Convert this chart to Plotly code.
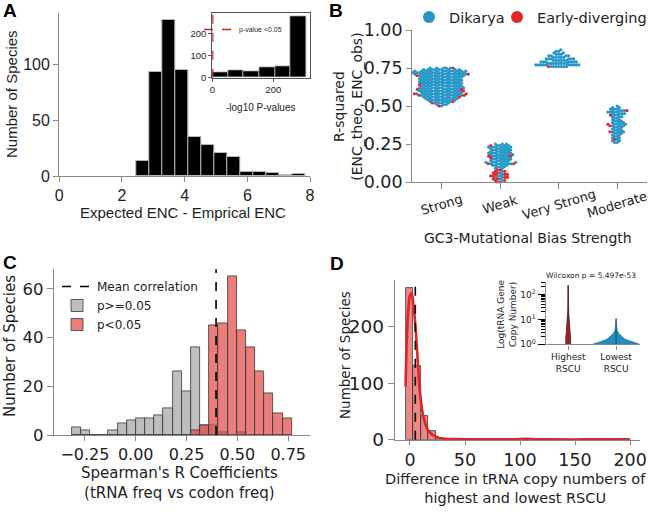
import numpy as np
import plotly.graph_objects as go

W, H = 650, 513

# ---------------- Panel A : histogram of Expected ENC - Empirical ENC ----------------
a_bin_range = (2.47, 7.85)
a_counts = [13, 93, 140, 95, 35, 28, 21, 17, 4, 4, 3, 1, 2]
a_xticks = [0, 2, 4, 6, 8]
a_yticks = [0, 50, 100]

# inset: -log10 p-values
ai_bin_range = (0, 308)
ai_counts = [26, 32, 27, 47, 53, 280]
ai_threshold = 1.301  # -log10(0.05)
ai_xticks = [0, 200]
ai_yticks = [0, 100, 200]

# ---------------- Panel B : swarm of R-squared by GC3 bias strength ----------------
b_categories = ["Strong", "Weak", "Very Strong", "Moderate"]
strong_levels = [0.50, 0.51, 0.52, 0.53, 0.54, 0.55, 0.56, 0.57, 0.58, 0.59, 0.60, 0.61, 0.62,
                 0.63, 0.64, 0.65, 0.66, 0.67, 0.68, 0.69, 0.70, 0.71, 0.72, 0.73, 0.74, 0.75]
strong_dikarya = [1, 3, 4, 5, 7, 8, 8, 10, 10, 10, 10, 9, 11, 10, 9, 10, 10, 10, 10, 10, 11, 12, 13, 12, 9, 5]
strong_early = [1, 0, 1, 1, 0, 0, 1, 2, 2, 0, 1, 2, 0, 0, 1, 0, 0, 0, 0, 0, 1, 1, 0, 0, 0, 1]

weak_levels = [0.00, 0.01, 0.02, 0.03, 0.04, 0.05, 0.06, 0.07, 0.08, 0.09, 0.10, 0.11, 0.12,
               0.13, 0.14, 0.15, 0.16, 0.17, 0.18, 0.19, 0.20, 0.21, 0.22, 0.23, 0.24, 0.25]
weak_dikarya = [1, 1, 1, 2, 2, 1, 1, 1, 0, 2, 3, 4, 6, 6, 5, 5, 4, 4, 6, 6, 5, 5, 5, 6, 4, 3]
weak_early = [1, 2, 2, 2, 2, 3, 2, 2, 2, 0, 0, 0, 2, 0, 0, 0, 1, 2, 0, 0, 0, 0, 0, 0, 1, 0]

vstrong_levels = [0.76, 0.77, 0.78, 0.79, 0.80, 0.81, 0.82, 0.83, 0.84, 0.85, 0.86, 0.87]
vstrong_dikarya = [7, 10, 8, 7, 6, 6, 5, 4, 3, 2, 2, 1]
vstrong_early = [1, 0, 0, 0, 0, 0, 0, 0, 0, 0, 0, 0]

moderate_levels = [0.26, 0.27, 0.28, 0.29, 0.30, 0.31, 0.32, 0.33, 0.34, 0.35, 0.36, 0.37, 0.38,
                   0.39, 0.40, 0.41, 0.42, 0.43, 0.44, 0.45, 0.46, 0.47, 0.48, 0.49, 0.50]
moderate_dikarya = [2, 2, 1, 2, 2, 2, 3, 3, 3, 2, 3, 3, 4, 3, 3, 2, 2, 3, 2, 4, 4, 4, 3, 2, 1]
moderate_early = [0, 0, 1, 0, 0, 0, 0, 1, 0, 0, 0, 1, 1, 0, 0, 0, 0, 0, 1, 0, 0, 1, 0, 0, 0]
b_yticks = [0.0, 0.25, 0.5, 0.75, 1.0]

# ---------------- Panel C : Spearman's R histograms ----------------
c_bin_range = (-0.315, 0.767)
c_counts_ns = [3, 2, 0, 0, 2, 5, 6, 7, 7, 8, 11, 26, 18, 36, 4, 4, 1, 0, 1, 0, 0, 0, 0, 0]
c_counts_sig = [0, 0, 0, 0, 0, 0, 0, 0, 0, 0, 0, 0, 0, 2, 4, 45, 46, 65, 43, 36, 26, 17, 9, 7]
c_mean = 0.395
c_xticks = [-0.25, 0.0, 0.25, 0.5, 0.75]
c_yticks = [0, 20, 40, 60]

# ---------------- Panel D : tRNA copy number differences ----------------
d_bin_range = (-3.6, 200)
d_counts = [268, 130, 41, 15, 3, 1, 0, 0, 0, 0, 0, 0, 0, 0, 0, 1, 0, 0, 0, 0,
            0, 0, 0, 0, 0, 0, 0, 0, 0, 1]
d_kde_x = [-4, -3, -1.5, 0, 1.5, 3, 5, 7, 9, 12, 16, 20, 24, 30, 40, 60, 80, 95, 105, 115, 130, 160, 200]
d_kde_y = [94, 170, 230, 255, 259, 240, 200, 141, 85, 42, 18, 9, 5, 2, 1, 0.6, 0.5, 0.8, 1.5, 0.8, 0.5, 0.5, 0.8]
d_mean = 4.85
d_xticks = [0, 50, 100, 150, 200]
d_yticks = [0, 100, 200]

# inset violins (copy number levels and half-widths of density)
dv_categories = ["Highest<br>RSCU", "Lowest<br>RSCU"]
high_levels = [1, 1.3, 2, 3, 5, 8, 12, 20, 40, 80, 150, 234]
high_halfw = [0.05, 0.055, 0.05, 0.04, 0.03, 0.022, 0.014, 0.01, 0.007, 0.005, 0.003, 0.0]
low_levels = [1, 1.27, 1.58, 2.1, 2.7, 3.7, 6, 10.7]
low_halfw = [0.49, 0.33, 0.19, 0.115, 0.06, 0.018, 0.01, 0.0]
wilcoxon_text = "Wilcoxon p = 5.497e-53"

# ======================================================================
BLUE = "#2596c8"
RED = "#e3262c"
AX_GRAY = "#8a8a8a"
TXT = "#1e1e1e"
ARIAL = "Liberation Sans, Arial, sans-serif"
DEJAVU = "DejaVu Sans, sans-serif"


def xd(a, b):
    return [a / W, b / W]


def yd(top, bottom):
    return [1 - bottom / H, 1 - top / H]


def bars_from(rng, counts):
    edges = np.linspace(rng[0], rng[1], len(counts) + 1)
    return (edges[:-1] + edges[1:]) / 2, np.diff(edges)


fig = go.Figure()

# ---- A main
ax_c, ax_w = bars_from(a_bin_range, a_counts)
fig.add_trace(go.Bar(x=ax_c, y=a_counts, width=ax_w, marker=dict(color="black", line=dict(color="#b5b5b5", width=1)),
                     showlegend=False, xaxis="x", yaxis="y"))
# ---- A inset
ai_c, ai_w = bars_from(ai_bin_range, ai_counts)
fig.add_trace(go.Bar(x=ai_c, y=ai_counts, width=ai_w, marker=dict(color="black", line=dict(color="#b5b5b5", width=0.8)),
                     showlegend=False, xaxis="x2", yaxis="y2"))
fig.add_trace(go.Scatter(x=[ai_threshold, ai_threshold], y=[0, 300], mode="lines",
                         line=dict(color="#b22a2a", width=1.5, dash="dash"), name="p-value <0.05",
                         legend="legend3", xaxis="x2", yaxis="y2", cliponaxis=True))


# ---- B swarm
def swarm(values_px, d):
    order = sorted(range(len(values_px)), key=lambda i: values_px[i])
    px_l, py_l = [], []
    out = [0.0] * len(values_px)
    for i in order:
        y = values_px[i]
        neigh = [(px, py) for px, py in zip(px_l, py_l) if abs(py - y) < d]
        cands = [0.0]
        for px, py in neigh:
            dx = (d * d - (py - y) ** 2) ** 0.5
            cands.extend([px - dx, px + dx])
        cands.sort(key=lambda c: (abs(c), c))
        chosen = 0.0
        for c in cands:
            if all((c - px) ** 2 + (y - py) ** 2 >= d * d - 1e-9 for px, py in neigh):
                chosen = c
                break
        out[i] = chosen
        px_l.append(chosen)
        py_l.append(y)
    return out


B_YPX = 152.0   # px per unit of R-squared
B_XPX = 58.7    # px per category
DOT = 2.6
bx = {"Dikarya": [], "Early-diverging": []}
by = {"Dikarya": [], "Early-diverging": []}
groups = [(strong_levels, strong_dikarya, strong_early), (weak_levels, weak_dikarya, weak_early),
          (vstrong_levels, vstrong_dikarya, vstrong_early), (moderate_levels, moderate_dikarya, moderate_early)]
for ci, (lev, dik, ear) in enumerate(groups):
    vals, hues = [], []
    for v, nd, ne in zip(lev, dik, ear):
        vals += [v] * nd
        hues += ["Dikarya"] * nd
        vals += [v] * ne
        hues += ["Early-diverging"] * ne
    offs = swarm([v * B_YPX for v in vals], DOT)
    for v, h, o in zip(vals, hues, offs):
        bx[h].append(ci + o / B_XPX)
        by[h].append(v)
for h, col, lg in [("Dikarya", BLUE, "legend"), ("Early-diverging", RED, "legend4")]:
    fig.add_trace(go.Scatter(x=bx[h], y=by[h], mode="markers", name=h, legend=lg,
                             marker=dict(color=col, size=3.2, line=dict(width=0)),
                             xaxis="x3", yaxis="y3", cliponaxis=False))

# ---- C histograms
cc, cw = bars_from(c_bin_range, c_counts_ns)
fig.add_trace(go.Bar(x=cc, y=c_counts_ns, width=cw, name="p>=0.05", legend="legend2", legendrank=2,
                     marker=dict(color="rgba(165,165,165,0.72)", line=dict(color="#3a3a3a", width=0.8)),
                     xaxis="x4", yaxis="y4"))
fig.add_trace(go.Bar(x=cc, y=c_counts_sig, width=cw, name="p<0.05", legend="legend2", legendrank=3,
                     marker=dict(color="rgba(226,64,64,0.68)", line=dict(color="#3a3a3a", width=0.8)),
                     xaxis="x4", yaxis="y4"))
fig.add_trace(go.Scatter(x=[c_mean, c_mean], y=[0, 70], mode="lines", name="Mean correlation",
                         legend="legend2", legendrank=1, line=dict(color="black", width=1.6, dash="dash"),
                         xaxis="x4", yaxis="y4"))

# ---- D histogram + kde
dc, dw = bars_from(d_bin_range, d_counts)
fig.add_trace(go.Bar(x=dc, y=d_counts, width=dw, showlegend=False,
                     marker=dict(color="rgba(226,72,72,0.65)", line=dict(color="#3a3a3a", width=0.8)),
                     xaxis="x5", yaxis="y5"))
fig.add_trace(go.Scatter(x=d_kde_x, y=d_kde_y, mode="lines", showlegend=False,
                         line=dict(color="#e02424", width=2.6, shape="spline", smoothing=0.8),
                         xaxis="x5", yaxis="y5"))
fig.add_trace(go.Scatter(x=[d_mean, d_mean], y=[0, 290], mode="lines", showlegend=False,
                         line=dict(color="black", width=1.6, dash="dash"), xaxis="x5", yaxis="y5"))

# ---- D inset violins
for ci, (lev, hw, fillc, linec) in enumerate([(high_levels, high_halfw, "#b42222", "#5a1212"),
                                               (low_levels, low_halfw, "#1f8fbf", "#1a7aa5")]):
    xs = [ci + w for w in hw] + [ci - w for w in hw[::-1]]
    ys = list(lev) + list(lev[::-1])
    fig.add_trace(go.Scatter(x=xs, y=ys, mode="lines", fill="toself", fillcolor=fillc,
                             line=dict(color=linec, width=0.8), showlegend=False,
                             xaxis="x6", yaxis="y6"))
    fig.add_trace(go.Scatter(x=[ci, ci], y=[lev[0], lev[-1]], mode="lines",
                             line=dict(color="#333333", width=0.8), showlegend=False,
                             xaxis="x6", yaxis="y6"))
fig.add_trace(go.Scatter(x=[0, 1], y=[380, 380], mode="lines", line=dict(color="black", width=1),
                         showlegend=False, xaxis="x6", yaxis="y6", cliponaxis=False))


def axis(domain, rng, anchor, tickvals, font, size, ticklen=5, **kw):
    d = dict(domain=domain, range=rng, anchor=anchor, showgrid=False, zeroline=False,
             showline=True, linecolor=AX_GRAY, linewidth=1.4, ticks="outside", ticklen=ticklen,
             tickwidth=1.2, tickcolor=AX_GRAY, tickvals=tickvals, tickangle=0, automargin=False,
             tickfont=dict(family=font, size=size, color=TXT))
    d.update(kw)
    return d


minor_vals = [m * 10 ** e for e in range(0, 3) for m in range(2, 10)]

fig.update_layout(
    width=W, height=H, margin=dict(l=0, r=0, t=0, b=0, autoexpand=False),
    paper_bgcolor="white", plot_bgcolor="rgba(0,0,0,0)", barmode="overlay", bargap=0,
    showlegend=True,
    xaxis=axis(xd(59.3, 310), [0, 8], "y", a_xticks, ARIAL, 16),
    yaxis=axis(yd(13, 176), [0, 146], "x", a_yticks, ARIAL, 16),
    xaxis2=axis(xd(212.3, 310), [0, 320], "y2", ai_xticks, ARIAL, 9.5, ticklen=3, mirror=True,
                linecolor="#555555", tickcolor="#555555", linewidth=1.2),
    yaxis2=axis(yd(13.3, 77.7), [0, 294], "x2", ai_yticks, ARIAL, 9.5, ticklen=3, mirror=True,
                linecolor="#555555", tickcolor="#555555", linewidth=1.2),
    xaxis3=axis(xd(412.3, 646.5), [-0.5, 3.5], "y3", [0, 1, 2, 3], DEJAVU, 13, ticklen=6,
                showticklabels=False),
    yaxis3=axis(yd(30, 182), [0, 1.0], "x3", b_yticks, DEJAVU, 17.5, ticklen=5, tickformat=".2f"),
    xaxis4=axis(xd(54, 310), [-0.402, 0.857], "y4", c_xticks, DEJAVU, 16, ticklen=5, tickformat=".2f"),
    yaxis4=axis(yd(269.3, 435), [0, 68], "x4", c_yticks, DEJAVU, 16.5, ticklen=6),
    xaxis5=axis(xd(395, 640), [-13.6, 209], "y5", d_xticks, DEJAVU, 17.5, ticklen=4),
    yaxis5=axis(yd(280, 439.7), [0, 282], "x5", d_yticks, DEJAVU, 18.5, ticklen=6),
    xaxis6=axis(xd(545.7, 640), [-0.47, 1.5], "y6", [0, 1], DEJAVU, 9, ticklen=4, ticktext=dv_categories),
    yaxis6=axis(yd(282, 344.3), [0, 2.5], "x6", [1, 10, 100], DEJAVU, 9, ticklen=7, type="log",
                ticktext=["10<sup>0</sup>", "10<sup>1</sup>", "10<sup>2</sup>"], tickcolor="black",
                minor=dict(ticks="outside", ticklen=4, tickcolor="black", tickwidth=1, tickvals=minor_vals)),
    legend=dict(x=409 / W, y=1 - 1 / H, xanchor="left", yanchor="top",
                font=dict(family=DEJAVU, size=14.5, color=TXT), bgcolor="rgba(0,0,0,0)",
                itemsizing="constant", itemwidth=30),
    legend4=dict(x=497 / W, y=1 - 1 / H, xanchor="left", yanchor="top",
                 font=dict(family=DEJAVU, size=14.5, color=TXT), bgcolor="rgba(0,0,0,0)",
                 itemsizing="constant", itemwidth=30),
    legend2=dict(x=57 / W, y=1 - 272 / H, xanchor="left", yanchor="top", traceorder="normal",
                 font=dict(family=DEJAVU, size=12, color=TXT), bgcolor="rgba(0,0,0,0)",
                 itemwidth=30, tracegroupgap=0),
    legend3=dict(x=199 / W, y=1 - 15 / H, xanchor="left", yanchor="top",
                 font=dict(family=ARIAL, size=7, color=TXT), bgcolor="rgba(0,0,0,0)", itemwidth=30),
)

ann = []


def text(x, y, s, size, font, angle=0, bold=False, color=TXT, xanchor="center"):
    ann.append(dict(x=x / W, y=1 - y / H, xref="paper", yref="paper", text=(f"<b>{s}</b>" if bold else s),
                    showarrow=False, textangle=angle, xanchor=xanchor, yanchor="middle",
                    font=dict(family=font, size=size, color=color)))


# B category labels, rotated and centred under their ticks
for ci, cat in enumerate(b_categories):
    ann.append(dict(x=ci, xref="x3", y=1 - 204 / H, yref="paper", text=cat, showarrow=False,
                    textangle=-17, xanchor="center", yanchor="middle",
                    font=dict(family=DEJAVU, size=13, color=TXT)))

# panel letters
text(10, 11, "A", 19, ARIAL, bold=True, color="black")
text(336, 10, "B", 19, ARIAL, bold=True, color="black")
text(10, 262, "C", 19, ARIAL, bold=True, color="black")
text(337, 263, "D", 19, ARIAL, bold=True, color="black")
# axis titles
text(183, 212, "Expected ENC - Emprical ENC", 15, ARIAL)
text(11, 94, "Number of Species", 15, ARIAL, angle=-90)
text(260.7, 107.3, "-log10 P-values", 10, ARIAL)
text(527.7, 238.3, "GC3-Mutational Bias Strength", 14, DEJAVU)
text(348, 106.7, "R-squared<br>(ENC_theo, ENC_obs)", 14, DEJAVU, angle=-90)
text(179.3, 483, "Spearman's R Coefficients<br>(tRNA freq vs codon freq)", 15, DEJAVU)
text(10, 346, "Number of Species", 15, DEJAVU, angle=-90)
text(515.5, 488, "Difference in tRNA copy numbers of<br>highest and lowest RSCU", 14.5, DEJAVU)
text(345, 355, "Number of Species", 13.5, DEJAVU, angle=-90)
text(507.5, 314.3, "Log(tRNA Gene<br>Copy Number)", 9, DEJAVU, angle=-90)
text(591.3, 275, wilcoxon_text, 7.5, DEJAVU)
fig.update_layout(annotations=ann)

fig.write_html("out.html", post_script="document.body.style.margin='0px';",
               config={"displayModeBar": False})
